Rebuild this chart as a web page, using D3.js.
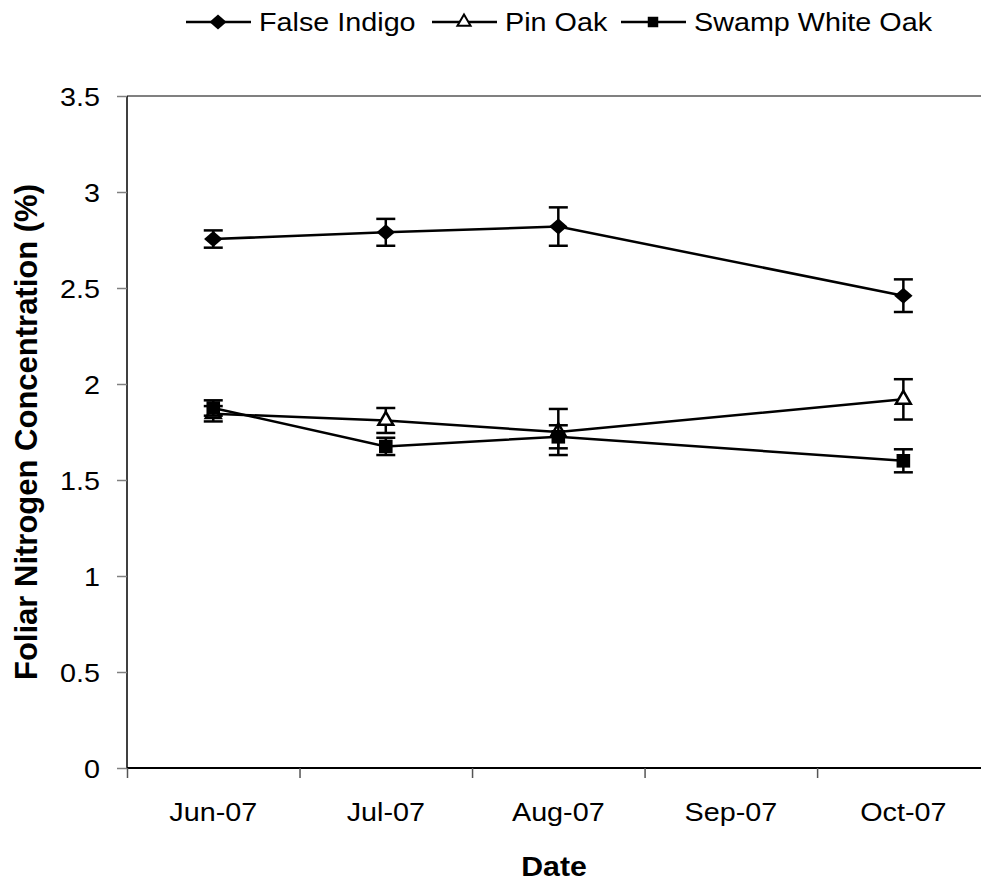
<!DOCTYPE html>
<html>
<head>
    <meta charset="utf-8">
    <script src="https://cdn.jsdelivr.net/npm/d3@7"></script>
    <style>
        * { margin: 0; padding: 0; }
        body { background: #fff; overflow: hidden; }
        text { font-family: "Liberation Sans", Arial, sans-serif; fill: #000; }
    </style>
</head>
<body>
<div id="chart"></div>
<script>
    // data
    const months = ['Jun-07', 'Jul-07', 'Aug-07', 'Sep-07', 'Oct-07']
    const seriesNames = ['False Indigo', 'Pin Oak', 'Swamp White Oak']
    const falseIndigo = [2.755, 2.79, 2.82, null, 2.46]
    const falseIndigoErr = [0.045, 0.07, 0.10, null, 0.085]
    const pinOak = [1.845, 1.81, 1.75, null, 1.92]
    const pinOakErr = [0.04, 0.065, 0.12, null, 0.105]
    const swampWhiteOak = [1.875, 1.675, 1.725, null, 1.60]
    const swampWhiteOakErr = [0.04, 0.045, 0.06, null, 0.06]
    const yTicks = [0, 0.5, 1, 1.5, 2, 2.5, 3, 3.5]

    const W = 981, H = 884
    const mLeft = 127, mRight = 981, mTop = 96, mBottom = 768
    const sx = 1.15 // the picture's text is a bit wider than plain Arial

    const svg = d3.select('#chart').append('svg')
        .attr('width', W).attr('height', H)

    const x = d3.scaleLinear().domain([-0.5, 4.45]).range([mLeft, mRight])
    const y = d3.scaleLinear().domain([0, 3.5]).range([mBottom, mTop])

    // top gridline at 3.5
    svg.append('line')
        .attr('x1', mLeft).attr('x2', mRight)
        .attr('y1', y(3.5)).attr('y2', y(3.5))
        .attr('stroke', '#808080').attr('stroke-width', 2)

    // y axis
    const yAxis = svg.append('g')
        .attr('transform', `translate(${mLeft},0)`)
        .call(d3.axisLeft(y).tickValues(yTicks).tickSize(10).tickPadding(17)
            .tickFormat(d => d))
    yAxis.select('.domain').attr('stroke', '#000').attr('stroke-width', 1.5)
        .attr('d', `M0,${y(3.5)}V${mBottom}`)
    yAxis.selectAll('.tick line').attr('stroke', '#808080').attr('stroke-width', 1.5)
    yAxis.selectAll('.tick text').style('font-size', '25px')
        .attr('font-family', null).attr('dy', '0.36em')
        .attr('x', null)
        .attr('transform', `translate(-27,0) scale(${sx},1)`)

    // x axis: ticks on month boundaries, labels at the month centres
    const xAxis = svg.append('g')
        .attr('transform', `translate(0,${mBottom})`)
        .call(d3.axisBottom(x).tickValues(d3.range(-0.5, 4, 1)).tickSize(10).tickFormat(''))
    xAxis.select('.domain').attr('stroke', '#000').attr('stroke-width', 2)
        .attr('d', `M${mLeft},0H${mRight}`)
    xAxis.selectAll('.tick line').attr('stroke', '#555').attr('stroke-width', 1.5)

    svg.append('g').selectAll('text')
        .data(months)
        .join('text')
        .attr('transform', (d, i) => `translate(${x(i)},${mBottom + 53}) scale(${sx},1)`)
        .attr('text-anchor', 'middle')
        .style('font-size', '25px')
        .text(d => d)

    // axis titles
    svg.append('text')
        .attr('transform', `translate(${(mLeft + mRight) / 2},876) scale(1.08,1)`)
        .attr('text-anchor', 'middle')
        .style('font-size', '28px').style('font-weight', 'bold')
        .text('Date')

    svg.append('text')
        .attr('transform', `translate(37,${(mTop + mBottom) / 2}) rotate(-90)`)
        .attr('text-anchor', 'middle')
        .style('font-size', '31px').style('font-weight', 'bold')
        .text('Foliar Nitrogen Concentration (%)')

    // series
    const series = [
        { name: seriesNames[0], vals: falseIndigo, err: falseIndigoErr, sym: d3.symbolSquare, size: 128, rot: 45, fill: '#000' },
        { name: seriesNames[1], vals: pinOak, err: pinOakErr, sym: d3.symbolTriangle, size: 95, rot: 0, fill: '#fff' },
        { name: seriesNames[2], vals: swampWhiteOak, err: swampWhiteOakErr, sym: d3.symbolSquare, size: 185, rot: 0, fill: '#000' }
    ]

    const line = d3.line()
        .defined(d => d.v != null)
        .x(d => x(d.i))
        .y(d => y(d.v))

    function markerTransform(s, cx, cy) {
        return s.rot ? `translate(${cx},${cy}) scale(${sx},1) rotate(${s.rot})` : `translate(${cx},${cy})`
    }

    series.forEach(s => {
        const pts = s.vals.map((v, i) => ({ i: i, v: v, e: s.err[i] })).filter(d => d.v != null)
        const g = svg.append('g')

        g.append('path')
            .datum(pts)
            .attr('d', line)
            .attr('fill', 'none')
            .attr('stroke', '#000')
            .attr('stroke-width', 2.5)

        // error bars
        const eb = g.selectAll('.eb').data(pts).join('g').attr('class', 'eb')
        eb.append('line')
            .attr('x1', d => x(d.i)).attr('x2', d => x(d.i))
            .attr('y1', d => y(d.v + d.e)).attr('y2', d => y(d.v - d.e))
            .attr('stroke', '#000').attr('stroke-width', 2.5)
        eb.append('line')
            .attr('x1', d => x(d.i) - 9.5).attr('x2', d => x(d.i) + 9.5)
            .attr('y1', d => y(d.v + d.e)).attr('y2', d => y(d.v + d.e))
            .attr('stroke', '#000').attr('stroke-width', 2.5)
        eb.append('line')
            .attr('x1', d => x(d.i) - 9.5).attr('x2', d => x(d.i) + 9.5)
            .attr('y1', d => y(d.v - d.e)).attr('y2', d => y(d.v - d.e))
            .attr('stroke', '#000').attr('stroke-width', 2.5)

        g.selectAll('.mk').data(pts).join('path')
            .attr('class', 'mk')
            .attr('d', d3.symbol().type(s.sym).size(s.size))
            .attr('transform', d => markerTransform(s, x(d.i), y(d.v)))
            .attr('fill', s.fill)
            .attr('stroke', '#000')
            .attr('stroke-width', s.fill == '#fff' ? 2.5 : 0)
    })

    // legend
    const legendX = [186, 432, 621]
    const legend = svg.append('g')
    series.forEach((s, k) => {
        const lg = legend.append('g').attr('transform', `translate(${legendX[k]},22)`)
        lg.append('line')
            .attr('x1', 0).attr('x2', 65).attr('y1', 0).attr('y2', 0)
            .attr('stroke', '#000').attr('stroke-width', 2.5)
        lg.append('path')
            .attr('d', d3.symbol().type(s.sym).size(k == 0 ? 110 : k == 1 ? 75 : 110))
            .attr('transform', markerTransform(s, 32, 0))
            .attr('fill', s.fill)
            .attr('stroke', '#000')
            .attr('stroke-width', s.fill == '#fff' ? 2 : 0)
        lg.append('text')
            .attr('transform', `translate(73,9) scale(${sx},1)`)
            .style('font-size', '25px')
            .text(s.name)
    })
</script>
</body>
</html>
